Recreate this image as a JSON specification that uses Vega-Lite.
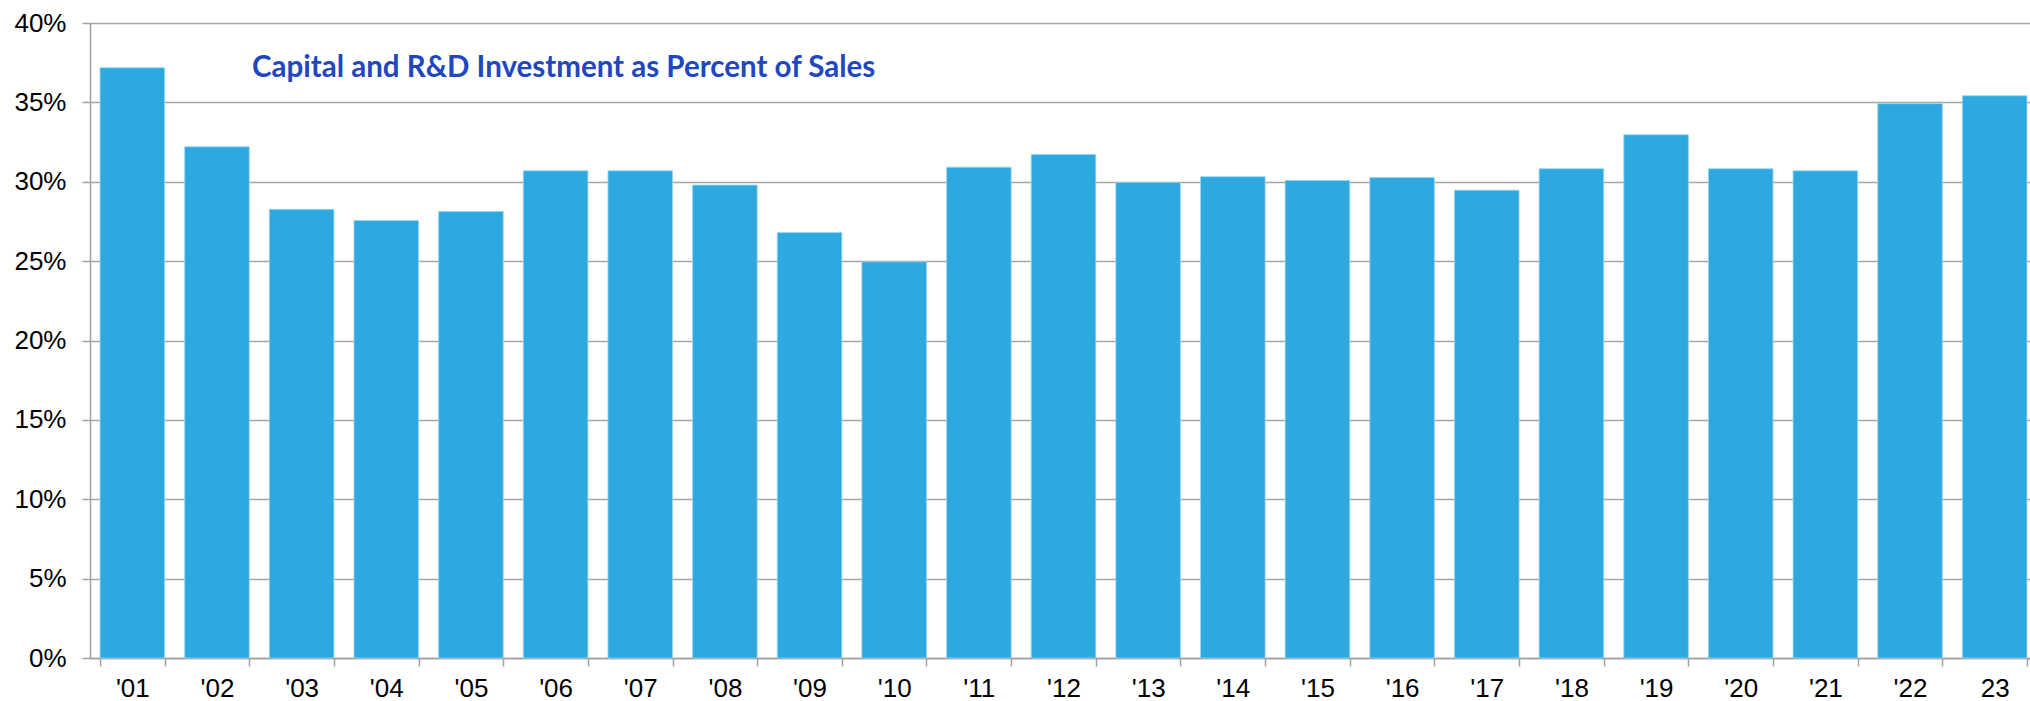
{
  "$schema": "https://vega.github.io/schema/vega-lite/v6.json",
  "autosize": {"type": "none"},
  "padding": {"left": 90, "top": 23, "right": 0, "bottom": 43},
  "width": 1947,
  "height": 635,
  "background": "white",
  "title": {
    "text": "Capital and R&D Investment as Percent of Sales",
    "anchor": "start",
    "frame": "group",
    "orient": "top",
    "offset": 0,
    "baseline": "alphabetic",
    "dx": 162,
    "dy": 96,
    "font": "Lato",
    "fontSize": 29.5,
    "fontWeight": "bold",
    "color": "#2047BF"
  },
  "data": {
    "values": [
      {"year": "'01", "pct": 37.18},
      {"year": "'02", "pct": 32.2},
      {"year": "'03", "pct": 28.26},
      {"year": "'04", "pct": 27.56},
      {"year": "'05", "pct": 28.13},
      {"year": "'06", "pct": 30.69},
      {"year": "'07", "pct": 30.69},
      {"year": "'08", "pct": 29.79},
      {"year": "'09", "pct": 26.8},
      {"year": "'10", "pct": 24.96},
      {"year": "'11", "pct": 30.92},
      {"year": "'12", "pct": 31.72},
      {"year": "'13", "pct": 29.96},
      {"year": "'14", "pct": 30.32},
      {"year": "'15", "pct": 30.08},
      {"year": "'16", "pct": 30.27},
      {"year": "'17", "pct": 29.47},
      {"year": "'18", "pct": 30.82},
      {"year": "'19", "pct": 32.96},
      {"year": "'20", "pct": 30.82},
      {"year": "'21", "pct": 30.69},
      {"year": "'22", "pct": 34.92},
      {"year": "23", "pct": 35.42}
    ]
  },
  "mark": {"type": "bar", "color": "#2EA9DF", "stroke": "#9ad4ef", "strokeWidth": 0.8},
  "encoding": {
    "x": {
      "field": "year",
      "type": "nominal",
      "sort": null,
      "scale": {"paddingInner": 0.237, "paddingOuter": 0.1185},
      "axis": {
        "title": null,
        "labelAngle": 0,
        "labelFont": "Liberation Sans",
        "labelFontSize": 26,
        "labelColor": "#000000",
        "labelPadding": 9,
        "tickSize": 8,
        "tickColor": "#a0a0a0",
        "tickWidth": 1.5,
        "tickBand": "extent",
        "domainColor": "#a0a0a0",
        "domainWidth": 1.5,
        "grid": false
      }
    },
    "y": {
      "field": "pct",
      "type": "quantitative",
      "scale": {"domain": [0, 40], "nice": false},
      "axis": {
        "title": null,
        "values": [0, 5, 10, 15, 20, 25, 30, 35, 40],
        "labelExpr": "datum.value + '%'",
        "labelFont": "Liberation Sans",
        "labelFontSize": 26,
        "labelColor": "#000000",
        "labelPadding": 16,
        "tickSize": 8,
        "tickColor": "#a0a0a0",
        "tickWidth": 1.5,
        "domainColor": "#a0a0a0",
        "domainWidth": 1.5,
        "grid": true,
        "gridColor": "#a6a6a6",
        "gridWidth": 1.6
      }
    }
  },
  "config": {"view": {"stroke": null}}
}
